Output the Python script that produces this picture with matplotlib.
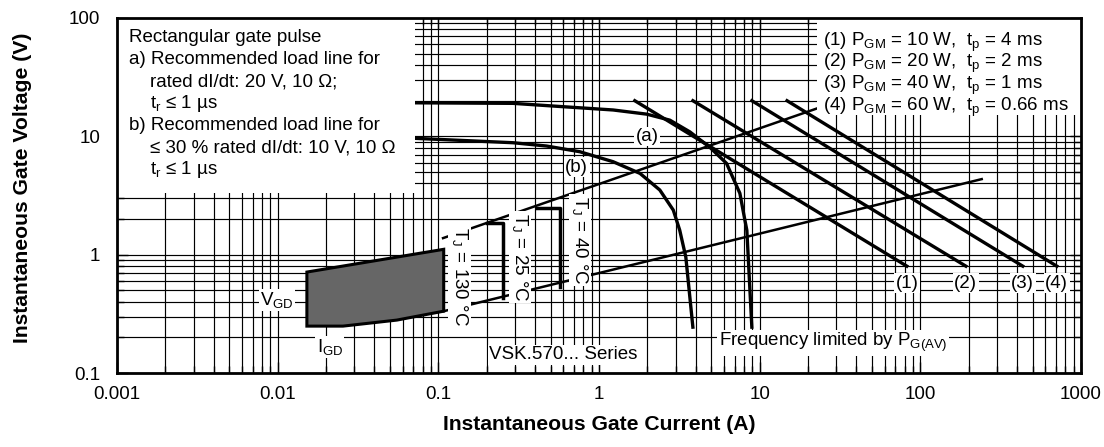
import numpy as np
import matplotlib
matplotlib.use("Agg")
import matplotlib.pyplot as plt
from matplotlib.patches import Rectangle, Polygon

plt.rcParams['font.family'] = ['Liberation Sans', 'DejaVu Sans']
plt.rcParams['mathtext.fontset'] = 'custom'
plt.rcParams['mathtext.rm'] = 'Liberation Sans'
plt.rcParams['mathtext.it'] = 'Liberation Sans'

# load line (a): 20 V, 10 ohm
curve_a_i = [0.02, 0.0714, 0.292, 0.598, 1.225, 1.98, 2.76, 3.68, 4.90, 6.22, 7.53, 8.09, 8.32, 8.94]
curve_a_v = [19.3, 19.2, 19.0, 17.8, 16.7, 15.4, 13.7, 10.9, 8.07, 5.91, 3.30, 1.96, 1.61, 0.244]
# load line (b): 10 V, 10 ohm
curve_b_i = [0.02, 0.0714, 0.292, 0.472, 0.76, 1.225, 1.80, 2.39, 2.90, 3.18, 3.47, 3.84]
curve_b_v = [9.8, 9.62, 8.83, 8.28, 7.41, 6.10, 4.86, 3.52, 2.38, 1.61, 0.955, 0.244]

# peak gate power lines (1)..(4)
pgm_labels = ['(1)', '(2)', '(3)', '(4)']
pgm_start_i = [1.67, 3.84, 8.94, 14.8]
pgm_end_i = [82.4, 192, 434, 707]
pgm_start_v = 20.0
pgm_end_v = 0.8

# rising boundary lines
upper_i = [0.107, 23.0]
upper_v = [1.38, 17.3]
lower_i = [0.108, 241]
lower_v = [0.333, 4.35]

# V_GD / I_GD region
gd_i = [0.0152, 0.0152, 0.0255, 0.0552, 0.108, 0.108]
gd_v = [0.713, 0.249, 0.249, 0.28, 0.333, 1.11]

# Tj brackets: (x, v_top, v_bottom, x_top_start)
tj25 = (0.252, 1.85, 0.43, 0.200)
tj40 = (0.571, 2.48, 0.532, 0.411)

fig = plt.figure(figsize=(11.04, 4.47), dpi=100)
ax = fig.add_axes([117 / 1104, 74 / 447, 964 / 1104, 355 / 447])
ax.set_xscale('log')
ax.set_yscale('log')
ax.set_xlim(0.001, 1000)
ax.set_ylim(0.1, 100)

# grid drawn by hand so the white boxes can sit between grid and ticks
for d in range(-3, 3):
    for m in range(1, 10):
        ax.axvline(m * 10.0 ** d, color='black', lw=0.85, zorder=0.5)
for d in range(-1, 2):
    for m in range(1, 10):
        ax.axhline(m * 10.0 ** d, color='black', lw=0.85, zorder=0.5)

lw_thick = 2.4
ax.plot(curve_a_i, curve_a_v, color='black', lw=lw_thick, zorder=1.2)
ax.plot(curve_b_i, curve_b_v, color='black', lw=lw_thick, zorder=1.2)
for s, e in zip(pgm_start_i, pgm_end_i):
    ax.plot([s, e], [pgm_start_v, pgm_end_v], color='black', lw=lw_thick, zorder=1.2)
ax.plot(upper_i, upper_v, color='black', lw=1.8, zorder=1.2)
ax.plot(lower_i, lower_v, color='black', lw=1.8, zorder=1.2)

ax.add_patch(Polygon(list(zip(gd_i, gd_v)), closed=True, facecolor='#666666',
                     edgecolor='black', lw=2.2, zorder=1.3))

for x, vt, vb, xs in (tj25, tj40):
    ax.plot([xs, x, x], [vt, vt, vb], color='black', lw=2.5, zorder=1.3)

# white boxes
ax.add_patch(Rectangle((0, 1 - 175 / 355), 298 / 964, 175 / 355, transform=ax.transAxes,
                       facecolor='white', edgecolor='none', zorder=2))
ax.add_patch(Rectangle((700 / 964, 1 - 97 / 355), 264 / 964, 97 / 355, transform=ax.transAxes,
                       facecolor='white', edgecolor='none', zorder=2))

fs = 13.5
left_lines = [
    (12, 'Rectangular gate pulse'),
    (12, 'a) Recommended load line for'),
    (33, 'rated dI/dt: 20 V, 10 Ω;'),
    (33, r't$_\mathregular{r}$ ≤ 1 µs'),
    (12, 'b) Recommended load line for'),
    (33, '≤ 30 % rated dI/dt: 10 V, 10 Ω'),
    (33, r't$_\mathregular{r}$ ≤ 1 µs'),
]
for k, (dx, s) in enumerate(left_lines):
    ax.text(dx / 964, 1 - (20 + 22 * k) / 355, s, transform=ax.transAxes,
            fontsize=fs, va='center', ha='left', zorder=3)

right_lines = [
    r'(1) P$_\mathregular{GM}$ = 10 W,  t$_\mathregular{p}$ = 4 ms',
    r'(2) P$_\mathregular{GM}$ = 20 W,  t$_\mathregular{p}$ = 2 ms',
    r'(3) P$_\mathregular{GM}$ = 40 W,  t$_\mathregular{p}$ = 1 ms',
    r'(4) P$_\mathregular{GM}$ = 60 W,  t$_\mathregular{p}$ = 0.66 ms',
]
for k, s in enumerate(right_lines):
    ax.text(706 / 964, 1 - (24 + 21.7 * k) / 355, s, transform=ax.transAxes,
            fontsize=fs, va='center', ha='left', zorder=3)

wb = dict(facecolor='white', edgecolor='none', pad=1.0)
label_v = 0.575
for lab, e in zip(pgm_labels, pgm_end_i):
    ax.text(e, label_v, lab, fontsize=fs, ha='center', va='center', bbox=wb, zorder=3)

ax.text(1.99, 10.0, '(a)', fontsize=fs, ha='center', va='center', bbox=wb, zorder=3)
ax.text(0.727, 5.5, '(b)', fontsize=fs, ha='center', va='center', bbox=wb, zorder=3)
ax.text(0.0099, 0.413, r'V$_\mathregular{GD}$', fontsize=fs, ha='center', va='center', bbox=wb, zorder=3)
ax.text(0.0211, 0.166, r'I$_\mathregular{GD}$', fontsize=fs, ha='center', va='center', bbox=wb, zorder=3)
ax.text(0.6, 0.142, 'VSK.570... Series', fontsize=fs, ha='center', va='center', bbox=wb, zorder=3)
ax.text(28.6, 0.18, r'Frequency limited by P$_\mathregular{G(AV)}$', fontsize=fs,
        ha='center', va='center', bbox=wb, zorder=3)

ax.text(0.136, 0.659, r'T$_\mathregular{J}$ = 130 °C', fontsize=fs, rotation=-90,
        ha='center', va='center', bbox=wb, zorder=3)
ax.text(0.322, 0.955, r'T$_\mathregular{J}$ = 25 °C', fontsize=fs, rotation=-90,
        ha='center', va='center', bbox=wb, zorder=3)
ax.text(0.76, 1.33, r'T$_\mathregular{J}$ = 40 °C', fontsize=fs, rotation=-90,
        ha='center', va='center', bbox=wb, zorder=3)

ax.set_xticks([0.001, 0.01, 0.1, 1, 10, 100, 1000])
ax.set_xticklabels(['0.001', '0.01', '0.1', '1', '10', '100', '1000'])
ax.set_yticks([0.1, 1, 10, 100])
ax.set_yticklabels(['0.1', '1', '10', '100'])
ax.tick_params(which='both', direction='in', top=True, right=True, labelsize=fs)
ax.tick_params(axis='x', which='both', pad=9.5)
ax.tick_params(axis='y', which='both', pad=12)
ax.tick_params(which='major', length=8, width=1)
ax.tick_params(which='minor', length=5, width=1)
for sp in ax.spines.values():
    sp.set_linewidth(2)
    sp.set_zorder(4)

ax.set_xlabel('Instantaneous Gate Current (A)', fontsize=15.2, fontweight='bold')
ax.set_ylabel('Instantaneous Gate Voltage (V)', fontsize=15.2, fontweight='bold')
ax.xaxis.set_label_coords(0.5, -0.146)
ax.yaxis.set_label_coords(-0.0985, 0.521)
ax.xaxis.label.set_va('center')
ax.yaxis.label.set_va('center')

fig.savefig('out.png', dpi=100)
